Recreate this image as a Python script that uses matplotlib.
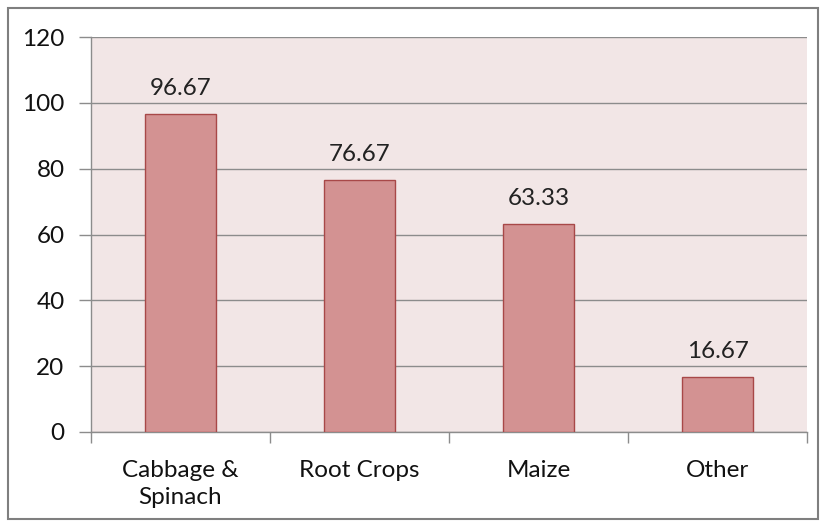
import matplotlib
matplotlib.use("Agg")
import matplotlib.pyplot as plt
from matplotlib.patches import Rectangle

categories = ["Cabbage &\nSpinach", "Root Crops", "Maize", "Other"]
values = [96.67, 76.67, 63.33, 16.67]
yticks = [0, 20, 40, 60, 80, 100, 120]

plt.rcParams["font.family"] = ["Lato", "DejaVu Sans"]
FS = 17.5

fig = plt.figure(figsize=(8.25, 5.27), dpi=100)
ax = fig.add_axes([91 / 825, 1 - 432 / 527, 716 / 825, 395 / 527])
ax.set_facecolor("#F2E6E6")

x = list(range(len(categories)))
ax.bar(x, values, width=0.4, color="#D39292", edgecolor="#A84848", linewidth=1, zorder=3)
for xi, v in zip(x, values):
    ax.text(xi, v + 4.5, f"{v:.2f}", ha="center", va="bottom", fontsize=FS, color="#222222")

ax.set_xlim(-0.5, len(categories) - 0.5)
ax.set_ylim(0, 120)
ax.set_yticks(yticks)
ax.set_yticklabels([str(t) for t in yticks], fontsize=FS, color="#111111")
ax.yaxis.grid(True, color="#8C8C8C", linewidth=1, zorder=0)
ax.set_axisbelow(True)

# category labels centered, ticks at category boundaries
ax.set_xticks([i - 0.5 for i in range(len(categories) + 1)])
ax.set_xticklabels([])
ax.set_xticks(x, minor=True)
ax.set_xticklabels(categories, minor=True, fontsize=FS, color="#111111", linespacing=1.38)
ax.tick_params(axis="x", which="minor", length=0, pad=20)
ax.tick_params(axis="x", which="major", length=8, color="#8C8C8C", width=1)
ax.tick_params(axis="y", length=9, color="#8C8C8C", width=1, pad=10)

for s in ["top", "right"]:
    ax.spines[s].set_visible(False)
for s in ["left", "bottom"]:
    ax.spines[s].set_color("#8C8C8C")
    ax.spines[s].set_linewidth(1)

fig.patches.append(Rectangle((8 / 825, 8 / 527), 810 / 825, 511 / 527, transform=fig.transFigure,
                             fill=False, edgecolor="#7F7F7F", linewidth=1.5))

fig.savefig("out.png", dpi=100)
